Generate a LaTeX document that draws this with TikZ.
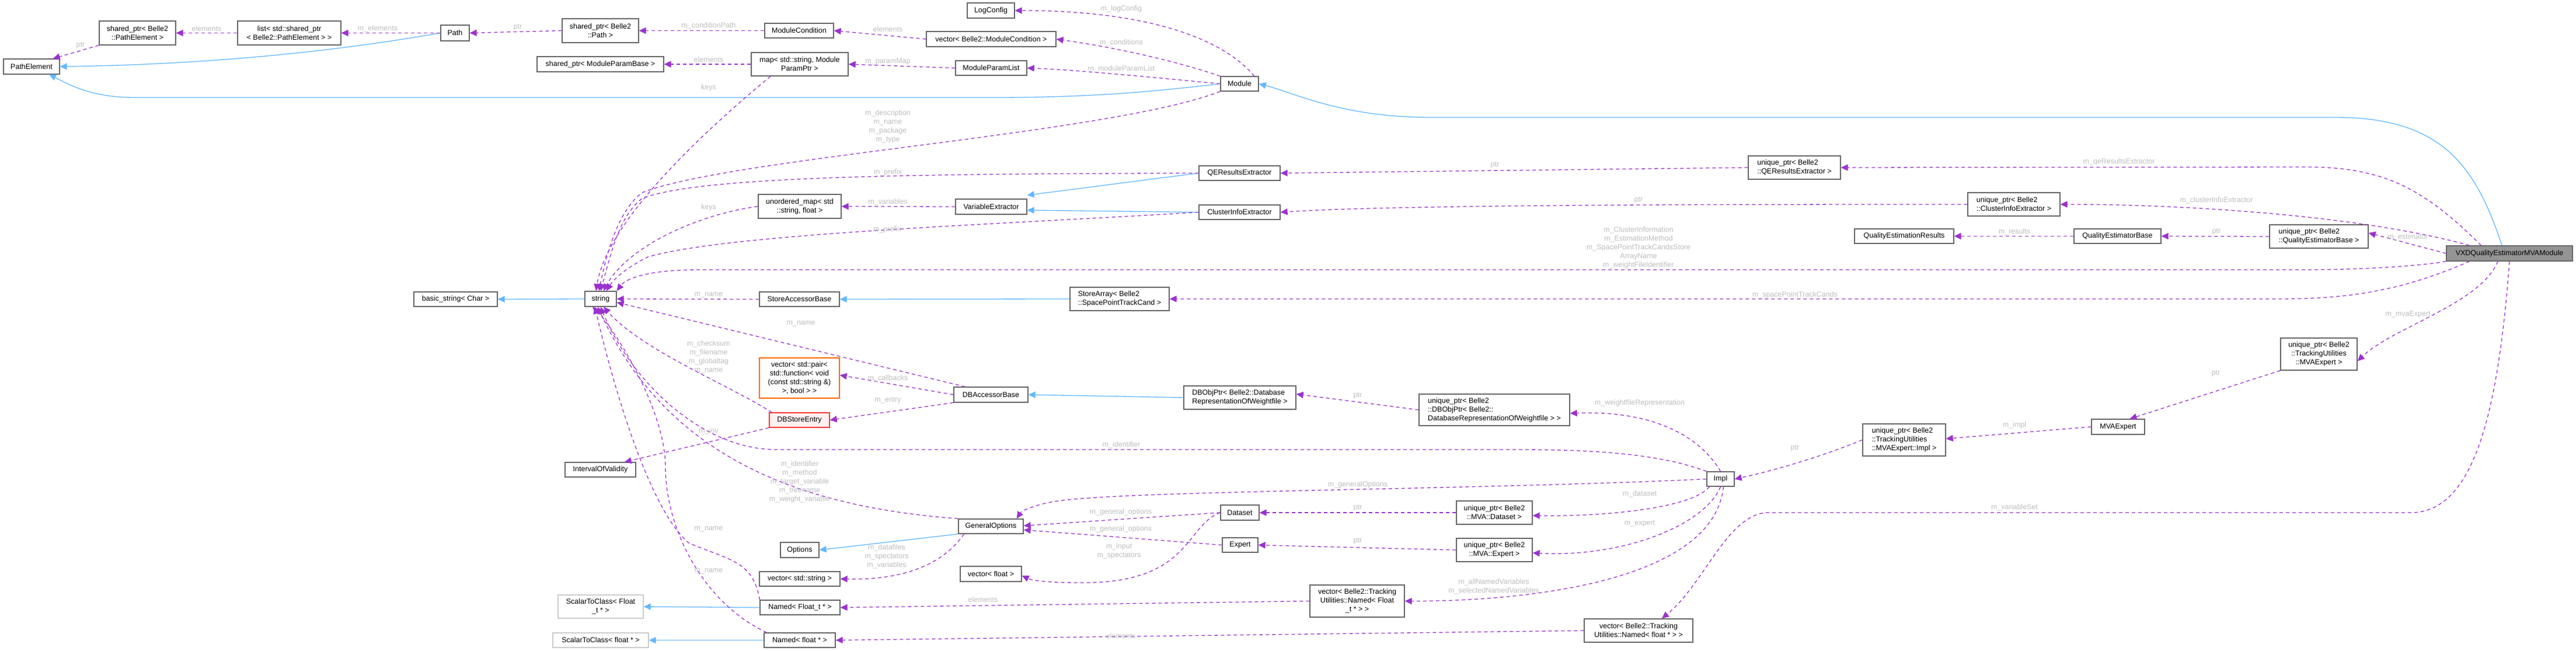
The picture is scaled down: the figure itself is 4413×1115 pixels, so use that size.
\documentclass[tikz,border=0pt]{standalone}
\usepackage{fontspec}
\setmainfont{Liberation Sans}
\usetikzlibrary{arrows.meta}
\definecolor{inh}{HTML}{63B8FF}
\definecolor{use}{HTML}{9A32CD}
\definecolor{lblc}{HTML}{BEBEBE}
\begin{document}
\begin{tikzpicture}[x=1pt,y=-1pt,
 box/.style={draw=black!60,line width=1.3pt,fill=white,inner sep=0pt,align=center,font=\fontsize{12.5}{15}\selectfont},
 lbox/.style={box,align=left},
 inh/.style={draw=inh,line width=1.3pt,-{Triangle[length=12pt,width=11pt]}},
 use/.style={draw=use,line width=1.3pt,dash pattern=on 6pt off 5pt,-{Triangle[length=12pt,width=11pt]}},
 lbl/.style={text=lblc,align=center,inner sep=0pt,font=\fontsize{12.5}{15}\selectfont}]
\path[fill=white,use as bounding box] (0,0) rectangle (4413,1115);
\newcommand\bx[6][box]{\node[#1,minimum width=#4,minimum height=#5] (#2) at #3 {#6};}
\bx{PE}{(54,114)}{96}{26}{PathElement}
\bx{spPE}{(235.5,56.5)}{131}{41}{shared\_ptr< Belle2\\::PathElement >}
\bx{listPE}{(495.5,56.5)}{177}{41}{list< std::shared\_ptr\\< Belle2::PathElement > >}
\bx{Path}{(779.5,56.5)}{49}{27}{Path}
\bx{spPath}{(1028.5,52.5)}{131}{41}{shared\_ptr< Belle2\\::Path >}
\bx{spMPB}{(1028.5,110)}{217}{26}{shared\_ptr< ModuleParamBase >}
\bx{MC}{(1369,52.5)}{118}{25}{ModuleCondition}
\bx{map}{(1370,110)}{166}{40}{map< std::string, Module\\ParamPtr >}
\bx{LC}{(1697.5,18)}{81}{26}{LogConfig}
\bx{vecMC}{(1698,67)}{222}{26}{vector< Belle2::ModuleCondition >}
\bx{MPL}{(1698,116.5)}{122}{25}{ModuleParamList}
\bx{Module}{(2123.5,143.5)}{65}{25}{Module}
\bx{QERE}{(2123.5,296.5)}{139}{25}{QEResultsExtractor}
\bx{CIE}{(2123.5,363.5)}{139}{25}{ClusterInfoExtractor}
\bx{VarEx}{(1698,354)}{122}{26}{VariableExtractor}
\bx{umap}{(1370,353.5)}{142}{41}{unordered\_map< std\\::string, float >}
\bx[lbox]{upQE}{(3074,287)}{158}{40}{unique\_ptr< Belle2\\::QEResultsExtractor >}
\bx[lbox]{upCIE}{(3450,350)}{158}{40}{unique\_ptr< Belle2\\::ClusterInfoExtractor >}
\bx{QER}{(3262,404.5)}{170}{25}{QualityEstimationResults}
\bx{QEB}{(3627.5,404.5)}{149}{25}{QualityEstimatorBase}
\bx[lbox]{upQEB}{(3972.5,405)}{169}{40}{unique\_ptr< Belle2\\::QualityEstimatorBase >}
\node[box,fill=black!42,minimum width=216,minimum height=26] (VXD) at (4299,434) {VXDQualityEstimatorMVAModule};
\bx{str}{(1029,512)}{54}{26}{string}
\bx{bstr}{(780.5,512.5)}{143}{25}{basic\_string< Char >}
\bx{SAB}{(1369.5,512.5)}{137}{25}{StoreAccessorBase}
\bx[lbox]{SA}{(1918,512)}{170}{40}{StoreArray< Belle2\\::SpacePointTrackCand >}
\node[box,draw=orange!80!red,minimum width=137,minimum height=69] (vp) at (1369.5,647.5) {vector< std::pair<\\std::function< void\\(const std::string \&)\\>, bool > >};
\bx{DBAB}{(1697.5,676)}{127}{26}{DBAccessorBase}
\node[box,draw=red!80,fill=red!6,minimum width=103,minimum height=25] (DBSE) at (1369.5,719.5) {DBStoreEntry};
\bx[lbox]{DBOP}{(2124,681)}{192}{40}{DBObjPtr< Belle2::Database\\RepresentationOfWeightfile >}
\bx[lbox]{upDBOP}{(2560,702)}{258}{54}{unique\_ptr< Belle2\\::DBObjPtr< Belle2::\\DatabaseRepresentationOfWeightfile > >}
\bx{IOV}{(1028.5,804.5)}{121}{25}{IntervalOfValidity}
\bx{GO}{(1697.5,901.5)}{111}{25}{GeneralOptions}
\bx{Opt}{(1370,942)}{66}{26}{Options}
\bx{vstr}{(1370,991.5)}{138}{25}{vector< std::string >}
\bx{vflt}{(1697.5,983)}{105}{26}{vector< float >}
\bx{DS}{(2124,878)}{66}{26}{Dataset}
\bx{EX}{(2124.5,933.5)}{61}{25}{Expert}
\bx{upDS}{(2560,878)}{130}{40}{unique\_ptr< Belle2\\::MVA::Dataset >}
\bx{upEX}{(2560,942)}{130}{40}{unique\_ptr< Belle2\\::MVA::Expert >}
\bx{vNFt}{(2325,1029.5)}{162}{55}{vector< Belle2::Tracking\\Utilities::Named< Float\\\_t * > >}
\bx{vNf}{(2807,1080)}{186}{40}{vector< Belle2::Tracking\\Utilities::Named< float * > >}
\node[box,draw=black!20,minimum width=146,minimum height=40] (STCFt) at (1029,1039) {ScalarToClass< Float\\\_t * >};
\bx{NFt}{(1370.5,1040.5)}{137}{25}{Named< Float\_t * >}
\node[box,draw=black!20,minimum width=164,minimum height=25] (STCf) at (1029,1096.5) {ScalarToClass< float * >};
\bx{Nf}{(1370,1096.5)}{122}{25}{Named< float * >}
\bx{Impl}{(2947.5,820.5)}{47}{25}{Impl}
\bx[lbox]{upImpl}{(3262,753.5)}{142}{55}{unique\_ptr< Belle2\\::TrackingUtilities\\::MVAExpert::Impl >}
\bx{MVAE}{(3628.5,731)}{91}{26}{MVAExpert}
\bx{upMVAE}{(3972.5,606.5)}{131}{55}{unique\_ptr< Belle2\\::TrackingUtilities\\::MVAExpert >}
% inheritance
\draw[inh] (Path.west) .. controls (620,80) and (400,110) .. (PE.east);
\draw[inh] (Module.west) .. controls (1950,160) and (1850,167) .. (1700,167) -- (230,167) .. controls (150,167) and (110,140) .. ([xshift=30]PE.south);
\draw[inh] ([xshift=-13]VXD.north) .. controls (4240,280) and (4180,201) .. (4000,201) -- (2450,201) .. controls (2300,201) and (2220,160) .. (Module.east);
\draw[inh] (QERE.west) -- ([yshift=6]VarEx.north east);
\draw[inh] (CIE.west) -- ([yshift=-6]VarEx.east);
\draw[inh] (str.west) -- (bstr.east);
\draw[inh] (SA.west) -- (SAB.east);
\draw[inh] (DBOP.west) -- (DBAB.east);
\draw[inh] (GO.south west) -- (Opt.east);
\draw[inh] (NFt.west) -- (STCFt.east);
\draw[inh] (Nf.west) -- (STCf.east);
% usage
\draw[use] (spPE.south west) -- ([xshift=-12]PE.north east) node[lbl,at={(138,78)}]{ptr};
\draw[use] (listPE.west) -- (spPE.east) node[lbl,at={(354,49)}]{elements};
\draw[use] (Path.west) -- (listPE.east) node[lbl,at={(647,49)}]{m\_elements};
\draw[use] (spPath.west) -- (Path.east) node[lbl,at={(887,47)}]{ptr};
\draw[use] (MC.west) -- (spPath.east) node[lbl,at={(1214,44)}]{m\_conditionPath};
\draw[use] (vecMC.west) -- (MC.east) node[lbl,at={(1521,50)}]{elements};
\draw[use] (Module.north west) .. controls (2000,100) and (1900,80) .. (vecMC.east) node[lbl,at={(1921,73)}]{m\_conditions};
\draw[use] ([xshift=-8]Module.north east) .. controls (2090,60) and (1950,18) .. (LC.east) node[lbl,at={(1921,15)}]{m\_logConfig};
\draw[use] (Module.west) .. controls (2000,135) and (1850,120) .. (MPL.east) node[lbl,at={(1921,118)}]{m\_moduleParamList};
\draw[use] (MPL.west) -- (map.east) node[lbl,at={(1521,105)}]{m\_paramMap};
\draw[use] (map.west) -- (spMPB.east) node[lbl,at={(1214,102)}]{elements};
\draw[use] ([xshift=-50]map.south) .. controls (1200,230) and (1040,380) .. ([xshift=-8]str.north) node[lbl,at={(1214,150)}]{keys};
\draw[use] (Module.south west) .. controls (1900,230) and (1250,270) .. (1100,330) .. controls (1060,360) and (1040,430) .. ([xshift=-3]str.north) node[lbl,at={(1521,217)}]{m\_description\\m\_name\\m\_package\\m\_type};
\draw[use] (QERE.west) .. controls (1600,298) and (1200,300) .. (1100,340) .. controls (1060,370) and (1045,440) .. (str.north) node[lbl,at={(1521,295)}]{m\_prefix};
\draw[use] (CIE.west) .. controls (1700,385) and (1250,400) .. (1110,440) .. controls (1070,460) and (1050,480) .. ([xshift=10]str.north) node[lbl,at={(1520,393)}]{m\_prefix};
\draw[use] (VarEx.west) -- (umap.east) node[lbl,at={(1521,346)}]{m\_variables};
\draw[use] (umap.west) .. controls (1180,370) and (1070,430) .. ([xshift=5]str.north) node[lbl,at={(1214,355)}]{keys};
\draw[use] (VXD.south west) .. controls (4150,455) and (4050,462) .. (3950,462) -- (1200,462) .. controls (1100,462) and (1070,480) .. (str.north east) node[lbl,at={(2807,424)}]{m\_ClusterInformation\\m\_EstimationMethod\\m\_SpacePointTrackCandsStore\\ArrayName\\m\_weightFileIdentifier};
\draw[use] (upQE.west) -- (QERE.east) node[lbl,at={(2561,283)}]{ptr};
\draw[use] (upCIE.west) .. controls (3000,350) and (2400,350) .. (CIE.east) node[lbl,at={(2807,343)}]{ptr};
\draw[use] ([xshift=60]VXD.north west) .. controls (4150,320) and (4080,286) .. (3950,286) -- (upQE.east) node[lbl,at={(3630,277)}]{m\_qeResultsExtractor};
\draw[use] ([xshift=40]VXD.north west) .. controls (4050,370) and (3750,350) .. (upCIE.east) node[lbl,at={(3797,343)}]{m\_clusterInfoExtractor};
\draw[use] (VXD.west) -- ([yshift=6]upQEB.east) node[lbl,at={(4125,406)}]{m\_estimator};
\draw[use] (upQEB.west) -- (QEB.east) node[lbl,at={(3797,397)}]{ptr};
\draw[use] (QEB.west) -- (QER.east) node[lbl,at={(3451,397)}]{m\_results};
\draw[use] ([xshift=40]VXD.south west) .. controls (4100,505) and (4000,512) .. (3900,512) -- (SA.east) node[lbl,at={(3075,505)}]{m\_spacePointTrackCands};
\draw[use] (SAB.west) -- (str.east) node[lbl,at={(1214,505)}]{m\_name};
\draw[use] ([xshift=20]DBAB.north west) -- ([yshift=-6]str.east) node[lbl,at={(1372,554)}]{m\_name};
\draw[use] ([xshift=5]DBSE.north west) .. controls (1250,660) and (1100,600) .. ([xshift=5]str.south) node[lbl,at={(1214,612)}]{m\_checksum\\m\_filename\\m\_globaltag\\m\_name};
\draw[use] (DBAB.west) -- ([yshift=5]vp.east) node[lbl,at={(1521,648)}]{m\_callbacks};
\draw[use] (DBAB.south west) -- (DBSE.east) node[lbl,at={(1521,686)}]{m\_entry};
\draw[use] (DBSE.south west) -- ([xshift=-20]IOV.north east) node[lbl,at={(1214,738)}]{m\_iov};
\draw[use] (upDBOP.west) -- ([yshift=6]DBOP.east) node[lbl,at={(2326,678)}]{ptr};
\draw[use] (Impl.north) .. controls (2920,760) and (2850,702) .. ([yshift=-6]upDBOP.east) node[lbl,at={(2809,690)}]{m\_weightfileRepresentation};
\draw[use] (Impl.north west) .. controls (2850,780) and (2750,770) .. (2600,770) -- (1330,770) .. controls (1200,770) and (1080,650) .. (str.south) node[lbl,at={(1921,762)}]{m\_identifier};
\draw[use] (Impl.west) .. controls (2500,840) and (1900,840) .. (1800,860) .. controls (1770,866) and (1750,875) .. ([xshift=-12]GO.north east) node[lbl,at={(2326,830)}]{m\_generalOptions};
\draw[use] (GO.north west) .. controls (1400,870) and (1150,800) .. ([xshift=-5]str.south) node[lbl,at={(1370,825)}]{m\_identifier\\m\_method\\m\_target\_variable\\m\_treename\\m\_weight\_variable};
\draw[use] ([xshift=10]GO.south west) .. controls (1620,960) and (1560,994) .. (vstr.east) node[lbl,at={(1519,953)}]{m\_datafiles\\m\_spectators\\m\_variables};
\draw[use] (DS.west) -- ([yshift=1]GO.east) node[lbl,at={(1920,877)}]{m\_general\_options};
\draw[use] (EX.west) -- ([yshift=-6]GO.east) node[lbl,at={(1920,906)}]{m\_general\_options};
\draw[use] (DS.west) .. controls (2030,900) and (2040,1000) .. (1850,998) .. controls (1800,998) and (1770,995) .. ([yshift=-3]vflt.east) node[lbl,at={(1917,944)}]{m\_input\\m\_spectators};
\draw[use] (upDS.west) -- (DS.east) node[lbl,at={(2326,870)}]{ptr};
\draw[use] (upEX.west) -- (EX.east) node[lbl,at={(2326,927)}]{ptr};
\draw[use] ([xshift=5]Impl.south west) .. controls (2900,870) and (2750,885) .. ([yshift=-5]upDS.east) node[lbl,at={(2809,846)}]{m\_dataset};
\draw[use] (Impl.south) .. controls (2920,900) and (2780,955) .. ([yshift=-5]upEX.east) node[lbl,at={(2809,897)}]{m\_expert};
\draw[use] ([xshift=5]Impl.south) .. controls (2935,1000) and (2600,1030) .. (vNFt.east) node[lbl,at={(2559,1005)}]{m\_allNamedVariables\\m\_selectedNamedVariables};
\draw[use] (vNFt.west) -- (NFt.east) node[lbl,at={(1684,1027)}]{elements};
\draw[use] (vNf.west) -- (Nf.east) node[lbl,at={(1920,1089)}]{elements};
\draw[use] (NFt.north west) .. controls (1290,960) and (1250,960) .. (1180,930) .. controls (1120,880) and (1060,700) .. ([xshift=-10]str.south) node[lbl,at={(1214,906)}]{m\_name};
\draw[use] ([xshift=5]Nf.north west) .. controls (1200,1030) and (1140,900) .. (1140,800) .. controls (1140,700) and (1050,560) .. ([xshift=-14]str.south) node[lbl,at={(1214,978)}]{m\_name};
\draw[use] (upImpl.west) .. controls (3100,790) and (3020,810) .. (Impl.east) node[lbl,at={(3075,768)}]{ptr};
\draw[use] (MVAE.west) -- ([yshift=2]upImpl.east) node[lbl,at={(3451,728)}]{m\_impl};
\draw[use] (upMVAE.south west) -- ([xshift=20]MVAE.north) node[lbl,at={(3796,640)}]{ptr};
\draw[use] ([xshift=-20]VXD.south) .. controls (4250,520) and (4100,560) .. ([yshift=-12]upMVAE.east) node[lbl,at={(4125,538)}]{m\_mvaExpert};
\draw[use] (VXD.south) .. controls (4280,700) and (4240,878) .. (4130,878) -- (3030,878) .. controls (2960,878) and (2920,1000) .. ([xshift=40]vNf.north) node[lbl,at={(3451,869)}]{m\_variableSet};
\end{tikzpicture}
\end{document}
